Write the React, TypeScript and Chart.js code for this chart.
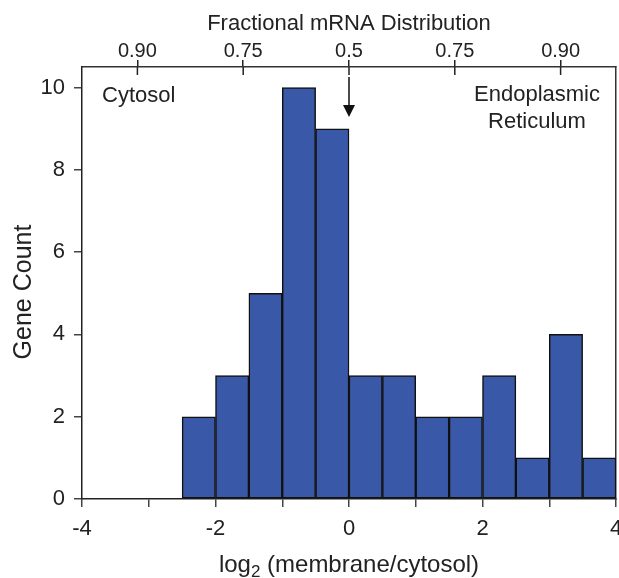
import React, { useEffect, useRef } from "react";
import { Chart, registerables } from "chart.js";

Chart.register(...registerables);

// Histogram bins (centers, log2 membrane/cytosol) and gene counts
const binCenters = [-3.75, -3.25, -2.75, -2.25, -1.75, -1.25, -0.75, -0.25, 0.25, 0.75, 1.25, 1.75, 2.25, 2.75, 3.25, 3.75];
const geneCounts = [0, 0, 0, 2, 3, 5, 10, 9, 3, 3, 2, 2, 3, 1, 4, 1];

const xTickValues = [-4, -3, -2, -1, 0, 1, 2, 3, 4];
const xTickLabels = ["-4", "", "-2", "", "0", "", "2", "", "4"];
const yTickValues = [0, 2, 4, 6, 8, 10];

// Top axis: fractional distribution (log2 positions of 0.9/0.1, 0.75/0.25, 0.5)
const topTickValues = [-3.17, -1.585, 0, 1.585, 3.17];
const topTickLabels = ["0.90", "0.75", "0.5", "0.75", "0.90"];

const FONT = "'Liberation Sans', Arial, Helvetica, sans-serif";
const BAR_COLOR = "#3a58a8";

const decorPlugin = {
  id: "decor",
  afterDraw(chart: any) {
    const { ctx, chartArea, scales } = chart;
    const x2 = scales.x2;
    const x = scales.x;
    ctx.save();
    // inward parts of top ticks
    ctx.strokeStyle = "#222";
    ctx.lineWidth = 1.5;
    topTickValues.forEach((v) => {
      const px = x2.getPixelForValue(v);
      ctx.beginPath();
      ctx.moveTo(px, chartArea.top);
      ctx.lineTo(px, chartArea.top + 8);
      ctx.stroke();
    });
    // arrow at 0.5
    const ax = x.getPixelForValue(0);
    ctx.strokeStyle = "#111";
    ctx.lineWidth = 1.5;
    ctx.beginPath();
    ctx.moveTo(ax, chartArea.top + 10);
    ctx.lineTo(ax, chartArea.top + 40);
    ctx.stroke();
    ctx.fillStyle = "#111";
    ctx.beginPath();
    ctx.moveTo(ax - 6, chartArea.top + 38);
    ctx.lineTo(ax + 6, chartArea.top + 38);
    ctx.lineTo(ax, chartArea.top + 50);
    ctx.closePath();
    ctx.fill();

    // annotations
    ctx.fillStyle = "#222";
    ctx.font = `22px ${FONT}`;
    ctx.textBaseline = "middle";
    ctx.textAlign = "left";
    ctx.fillText("Cytosol", chartArea.left + 20, chartArea.top + 29);
    ctx.textAlign = "center";
    ctx.fillText("Endoplasmic", chartArea.right - 79, chartArea.top + 28);
    ctx.fillText("Reticulum", chartArea.right - 79, chartArea.top + 55);

    // y axis title
    ctx.save();
    ctx.translate(24, (chartArea.top + chartArea.bottom) / 2 + 9);
    ctx.rotate(-Math.PI / 2);
    ctx.font = `25px ${FONT}`;
    ctx.textAlign = "center";
    ctx.textBaseline = "middle";
    ctx.fillText("Gene Count", 0, 0);
    ctx.restore();

    // x axis title with subscript
    const cx = (chartArea.left + chartArea.right) / 2;
    const y = 572;
    ctx.font = `24px ${FONT}`;
    const w1 = ctx.measureText("log").width;
    ctx.font = `17px ${FONT}`;
    const w2 = ctx.measureText("2").width;
    ctx.font = `24px ${FONT}`;
    const w3 = ctx.measureText(" (membrane/cytosol)").width;
    let sx = cx - (w1 + w2 + w3) / 2;
    ctx.textAlign = "left";
    ctx.textBaseline = "alphabetic";
    ctx.fillText("log", sx, y);
    sx += w1;
    ctx.font = `17px ${FONT}`;
    ctx.fillText("2", sx, y + 5);
    sx += w2;
    ctx.font = `24px ${FONT}`;
    ctx.fillText(" (membrane/cytosol)", sx, y);
    ctx.restore();
  },
};

export default function App() {
  const ref = useRef<HTMLCanvasElement>(null);
  useEffect(() => {
    if (!ref.current) return;
    const chart = new Chart(ref.current, {
      type: "bar",
      data: {
        datasets: [
          {
            data: binCenters.map((c, i) => ({ x: c, y: geneCounts[i] })),
            backgroundColor: BAR_COLOR,
            borderColor: "#111",
            borderWidth: 1.5,
            borderSkipped: false,
            barPercentage: 1,
            categoryPercentage: 1,
            xAxisID: "x",
            yAxisID: "y",
          },
        ],
      },
      plugins: [decorPlugin],
      options: {
        responsive: false,
        animation: false,
        events: [],
        layout: { padding: 0 },
        plugins: { legend: { display: false }, tooltip: { enabled: false }, title: { display: false } },
        scales: {
          x: {
            type: "linear",
            position: "bottom",
            min: -4,
            max: 4,
            offset: false,
            afterBuildTicks: (s: any) => {
              s.ticks = xTickValues.map((v) => ({ value: v }));
            },
            afterFit: (s: any) => {
              s.height = 79;
              s.paddingLeft = 0;
              s.paddingRight = 0;
            },
            ticks: {
              color: "#222",
              font: { family: FONT, size: 22 },
              padding: 9,
              maxRotation: 0,
              autoSkip: false,
              callback: (_v: any, i: number) => xTickLabels[i],
            },
            grid: { offset: false, drawOnChartArea: false, drawTicks: true, tickLength: 8, tickColor: "#444", lineWidth: 1.5 },
            border: { display: true, color: "#222", width: 1.5 },
          },
          x2: {
            type: "linear",
            position: "top",
            min: -4,
            max: 4,
            offset: false,
            afterBuildTicks: (s: any) => {
              s.ticks = topTickValues.map((v) => ({ value: v }));
            },
            afterFit: (s: any) => {
              s.height = 67;
              s.paddingLeft = 0;
              s.paddingRight = 0;
            },
            ticks: {
              color: "#222",
              font: { family: FONT, size: 20 },
              padding: -3,
              maxRotation: 0,
              autoSkip: false,
              callback: (_v: any, i: number) => topTickLabels[i],
            },
            title: {
              display: true,
              text: "Fractional mRNA Distribution",
              color: "#222",
              font: { family: FONT, size: 22 },
              padding: { top: 11, bottom: 0 },
            },
            grid: { offset: false, drawOnChartArea: false, drawTicks: true, tickLength: 7, tickColor: "#222", lineWidth: 1.5 },
            border: { display: true, color: "#333", width: 1.5 },
          },
          y: {
            type: "linear",
            position: "left",
            min: 0,
            max: 10.5,
            afterBuildTicks: (s: any) => {
              s.ticks = yTickValues.map((v) => ({ value: v }));
            },
            afterFit: (s: any) => {
              s.width = 82;
            },
            ticks: {
              color: "#222",
              font: { family: FONT, size: 22 },
              padding: 9,
            },
            title: { display: false },
            grid: { drawOnChartArea: false, drawTicks: true, tickLength: 8, tickColor: "#444", lineWidth: 1.5 },
            border: { display: true, color: "#222", width: 1.5 },
          },
          y2: {
            type: "linear",
            position: "right",
            min: 0,
            max: 10.5,
            afterBuildTicks: (s: any) => {
              s.ticks = yTickValues.map((v) => ({ value: v }));
            },
            afterFit: (s: any) => {
              s.width = 3;
            },
            ticks: { display: false },
            grid: { drawOnChartArea: false, drawTicks: false },
            border: { display: true, color: "#333", width: 1.5 },
          },
        },
      },
    } as any);
    return () => chart.destroy();
  }, []);
  return (
    <div style={{ position: "fixed", left: 0, top: 0, width: 619, height: 578, background: "#fff" }}>
      <canvas ref={ref} width={619} height={578} style={{ display: "block" }} />
    </div>
  );
}
